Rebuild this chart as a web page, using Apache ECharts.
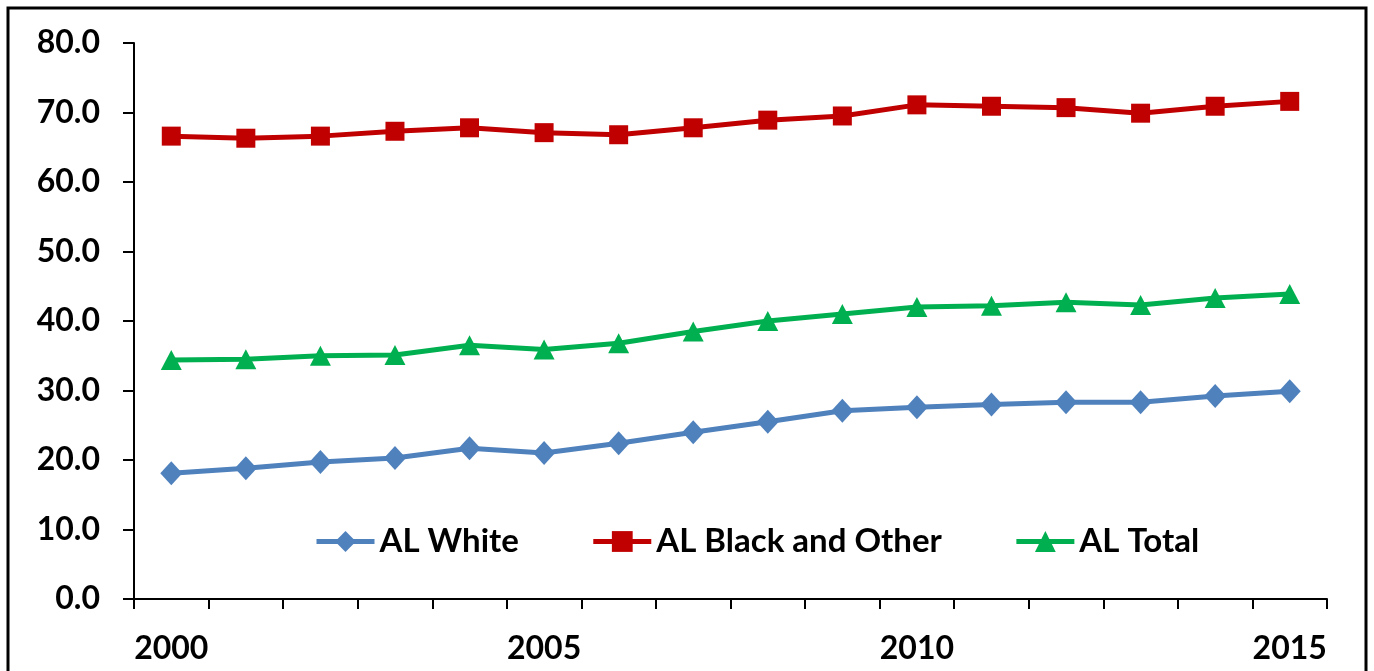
<!DOCTYPE html>
<html>
<head>
<meta charset="utf-8">
<script src="https://cdn.jsdelivr.net/npm/echarts@6/dist/echarts.min.js"></script>
<style>
html,body{margin:0;padding:0;background:#fff;}
#chart{width:1374px;height:671px;}
</style>
</head>
<body>
<div id="chart"></div>
<script>
const years = ['2000','2001','2002','2003','2004','2005','2006','2007','2008','2009','2010','2011','2012','2013','2014','2015'];
const alWhite = [18.1,18.8,19.7,20.3,21.7,21.0,22.4,24.0,25.5,27.1,27.6,28.0,28.3,28.3,29.2,29.9];
const alBlackOther = [66.6,66.3,66.6,67.3,67.8,67.1,66.8,67.8,68.9,69.5,71.1,70.9,70.7,69.9,70.9,71.6];
const alTotal = [34.4,34.5,35.0,35.1,36.5,35.9,36.8,38.5,40.0,41.0,42.0,42.2,42.7,42.3,43.3,43.9];
const seriesNames = ['AL White','AL Black and Other','AL Total'];

const FONT = 'Lato';
const chart = echarts.init(document.getElementById('chart'));
chart.setOption({
  animation:false,
  backgroundColor:'#fff',
  graphic:[{type:'rect',shape:{x:8,y:8,width:1358,height:700},style:{fill:'none',stroke:'#000',lineWidth:3},silent:true}],
  grid:{left:134,right:47,top:43,bottom:72,containLabel:false},
  legend:{
    left:314, top:525, padding:0,
    itemWidth:58, itemHeight:26, itemGap:72,
    lineStyle:{width:5},
    textStyle:{fontFamily:FONT,fontWeight:'bold',fontSize:33,color:'#000'},
    data:seriesNames
  },
  xAxis:{
    type:'category', data:years, boundaryGap:true,
    axisLine:{lineStyle:{color:'#000',width:2}},
    axisTick:{show:true,interval:0,length:10,inside:false,lineStyle:{color:'#000',width:2}},
    axisLabel:{interval:4,margin:34,fontFamily:FONT,fontWeight:'bold',fontSize:32,color:'#000'},
    splitLine:{show:false}
  },
  yAxis:{
    type:'value', min:0, max:80, interval:10,
    axisLine:{show:true,lineStyle:{color:'#000',width:2}},
    axisTick:{show:true,length:11,inside:false,lineStyle:{color:'#000',width:2}},
    axisLabel:{margin:34,fontFamily:FONT,fontWeight:'bold',fontSize:32,color:'#000',formatter:v=>v.toFixed(1)},
    splitLine:{show:false}
  },
  series:[
    {name:seriesNames[0],type:'line',data:alWhite,symbol:'diamond',symbolSize:[22,24],
     lineStyle:{color:'#4F81BD',width:5},itemStyle:{color:'#4F81BD'}},
    {name:seriesNames[1],type:'line',data:alBlackOther,symbol:'rect',symbolSize:19,
     lineStyle:{color:'#C00000',width:5},itemStyle:{color:'#C00000'}},
    {name:seriesNames[2],type:'line',data:alTotal,symbol:'triangle',symbolSize:[21,20],
     lineStyle:{color:'#00B050',width:5},itemStyle:{color:'#00B050'}}
  ]
});
</script>
</body>
</html>
